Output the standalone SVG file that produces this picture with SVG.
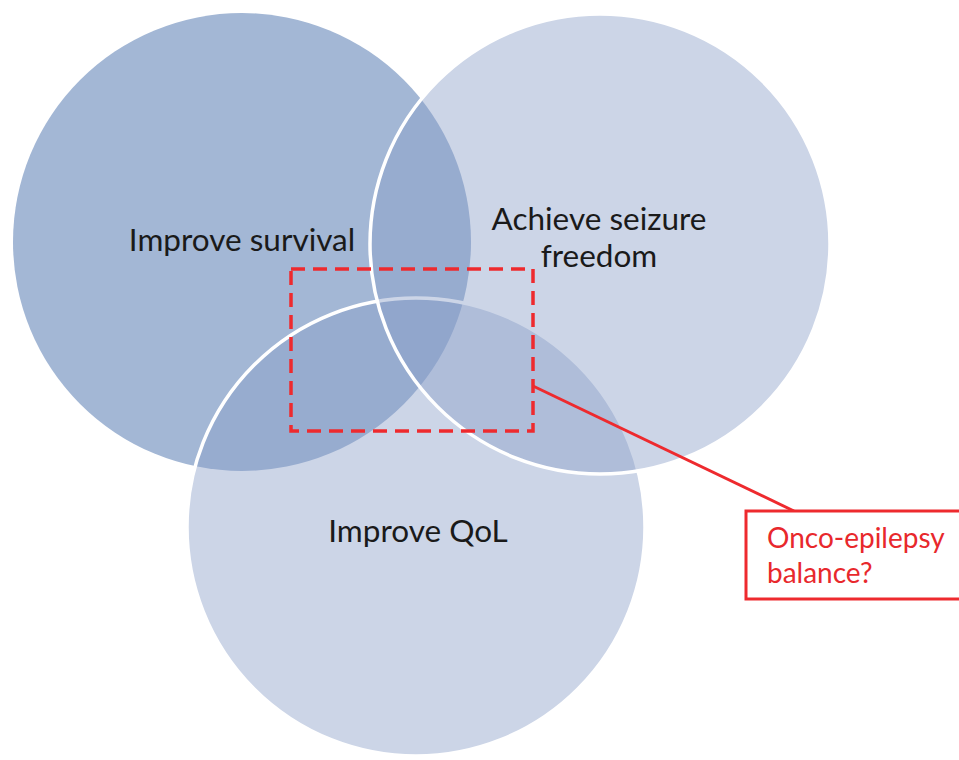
<svg xmlns="http://www.w3.org/2000/svg" width="959" height="760" viewBox="0 0 959 760">
  <style>
    .label { font-family: Lato, "Open Sans", "Liberation Sans", sans-serif; font-size: 31.5px; fill: #1a1a1a; text-anchor: middle; }
    .note { font-family: Lato, "Open Sans", "Liberation Sans", sans-serif; font-size: 28px; fill: #e8282c; }
    .soft { fill: #889dc8; fill-opacity: 0.43; stroke: #ffffff; stroke-width: 3.5; }
  </style>
  <rect width="959" height="760" fill="#ffffff"/>
  <!-- Venn circles -->
  <g id="survival">
    <circle cx="242" cy="242" r="229" fill="#a3b7d5"/>
  </g>
  <g id="qol">
    <circle class="soft" cx="416" cy="527" r="229"/>
  </g>
  <g id="seizure">
    <circle class="soft" cx="600" cy="244" r="230"/>
  </g>
  <g id="labels">
    <text class="label" x="242" y="251">Improve survival</text>
    <text class="label" x="599" y="230">Achieve seizure</text>
    <text class="label" x="599" y="267">freedom</text>
    <text class="label" x="418" y="542">Improve QoL</text>
  </g>
  <!-- Highlighted overlap and callout -->
  <g id="connectors" fill="none" stroke="#ee2a2e">
    <rect x="291" y="269" width="242" height="162" stroke-width="3.5" stroke-dasharray="14 8"/>
    <line x1="533" y1="386" x2="794" y2="511" stroke-width="3"/>
  </g>
  <g id="callout">
    <rect x="746" y="511" width="216" height="88" fill="#ffffff" stroke="#ee2a2e" stroke-width="3"/>
    <text class="note" x="767" y="548">Onco-epilepsy</text>
    <text class="note" x="767" y="583">balance?</text>
  </g>
</svg>
